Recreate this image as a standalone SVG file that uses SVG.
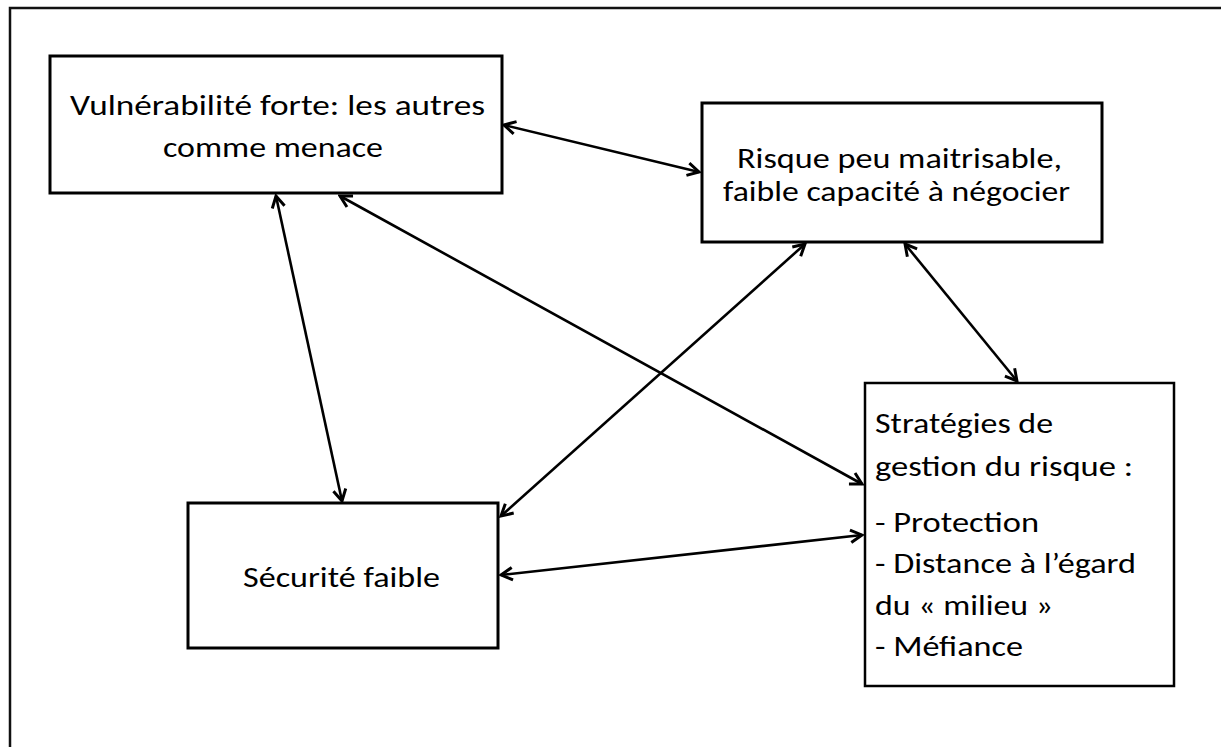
<svg xmlns="http://www.w3.org/2000/svg" width="1221" height="747" viewBox="0 0 1221 747">
<style>
.box{fill:#fff;stroke:#000;stroke-width:3}
.box4{fill:#fff;stroke:#000;stroke-width:2.5}
.t{font-family:Carlito,"Liberation Sans",Arial,sans-serif;font-size:29px;fill:#000}
.c{stroke:#000;stroke-width:2.6;fill:none;marker-start:url(#ah);marker-end:url(#ah)}
</style>
<defs>
<marker id="ah" markerUnits="userSpaceOnUse" markerWidth="16" markerHeight="16" refX="12" refY="7" orient="auto-start-reverse" viewBox="0 0 14 14">
<path d="M2,1.5 L12,7 L2,12.5" fill="none" stroke="#000" stroke-width="2.6"/>
</marker>
</defs>
<rect width="1221" height="747" fill="#fff"/>
<path d="M10,747 V8 H1221" fill="none" stroke="#111" stroke-width="2.5"/>
<g id="connectors">
<line class="c" x1="504" y1="125" x2="699" y2="172"/>
<line class="c" x1="276" y1="196" x2="342" y2="501"/>
<line class="c" x1="340" y1="196" x2="862" y2="484"/>
<line class="c" x1="805" y1="244" x2="501" y2="516"/>
<line class="c" x1="905" y1="244" x2="1017" y2="381"/>
<line class="c" x1="501" y1="575" x2="862" y2="535"/>
</g>
<g id="n1">
<rect class="box" x="50" y="56" width="452" height="137"/>
<text class="t" x="70" y="115" textLength="415" lengthAdjust="spacingAndGlyphs">Vulnérabilité forte: les autres</text>
<text class="t" x="163" y="157" textLength="220" lengthAdjust="spacingAndGlyphs">comme menace</text>
</g>
<g id="n2">
<rect class="box" x="702" y="103" width="400" height="139"/>
<text class="t" x="737" y="168" textLength="325" lengthAdjust="spacingAndGlyphs">Risque peu maitrisable,</text>
<text class="t" x="723" y="201" textLength="347" lengthAdjust="spacingAndGlyphs">faible capacité à négocier</text>
</g>
<g id="n3">
<rect class="box" x="188" y="503" width="310" height="145"/>
<text class="t" x="243" y="587" textLength="197" lengthAdjust="spacingAndGlyphs">Sécurité faible</text>
</g>
<g id="n4">
<rect class="box4" x="865" y="383" width="309" height="303"/>
<text class="t" x="875" y="433" textLength="178" lengthAdjust="spacingAndGlyphs">Stratégies de</text>
<text class="t" x="875" y="476" textLength="258" lengthAdjust="spacingAndGlyphs">gestion du risque :</text>
<text class="t" x="875" y="532" textLength="164" lengthAdjust="spacingAndGlyphs">- Protection</text>
<text class="t" x="875" y="573" textLength="261" lengthAdjust="spacingAndGlyphs">- Distance à l’égard</text>
<text class="t" x="875" y="615" textLength="178" lengthAdjust="spacingAndGlyphs">du « milieu »</text>
<text class="t" x="875" y="656" textLength="148" lengthAdjust="spacingAndGlyphs">- Méfiance</text>
</g>
</svg>
